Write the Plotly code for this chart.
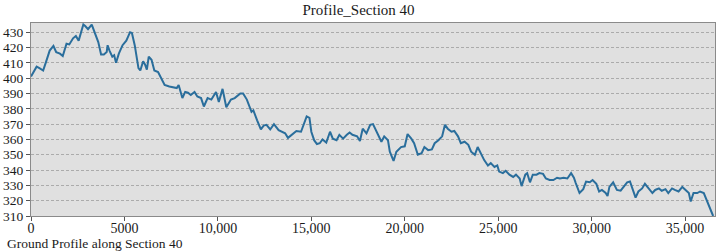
import plotly.graph_objects as go

distance = [0, 100, 300, 450, 650, 800, 1000, 1200, 1350, 1550, 1700, 1900, 2050, 2250, 2400, 2550,
            2700, 2800, 2900, 3050, 3250, 3400, 3600, 3750, 3900, 4050, 4100, 4200, 4350, 4450, 4550,
            4700, 4900, 5100, 5300, 5400, 5550, 5750, 5850, 6000, 6100, 6200, 6300, 6450, 6600, 6800,
            7000, 7150, 7400, 7550, 7800, 7900, 8100, 8250, 8400, 8550, 8750, 8900, 9100, 9250, 9450,
            9650, 9900, 10050, 10250, 10450, 10700, 10900, 11200, 11350, 11550, 11800, 11900, 12100,
            12300, 12450, 12600, 12800, 13000, 13250, 13400, 13600, 13750, 13950, 14200, 14450, 14600,
            14750, 14900, 15000, 15150, 15300, 15450, 15600, 15800, 16000, 16150, 16350, 16500, 16700,
            16900, 17050, 17200, 17450, 17600, 17750, 17950, 18150, 18300, 18500, 18600, 18750, 18900,
            19100, 19200, 19400, 19550, 19800, 20000, 20150, 20350, 20500, 20700, 20900, 21050, 21250,
            21450, 21600, 21800, 22000, 22150, 22300, 22500, 22650, 22850, 23000, 23200, 23400, 23550,
            23750, 23900, 24100, 24250, 24450, 24600, 24800, 24950, 25050, 25250, 25400, 25600, 25800,
            25950, 26150, 26250, 26450, 26550, 26700, 26850, 27050, 27200, 27400, 27550, 27750, 27950,
            28150, 28300, 28500, 28700, 28900, 29050, 29150, 29350, 29550, 29700, 29900, 30050, 30250,
            30400, 30550, 30750, 30850, 30950, 31150, 31350, 31550, 31700, 31900, 32050, 32150, 32350,
            32500, 32700, 32850, 33050, 33250, 33400, 33600, 33750, 33950, 34100, 34300, 34450, 34650,
            34850, 35000, 35200, 35300, 35450, 35650, 35800, 36000, 36150, 36300, 36450, 36500]

elevation = [401, 403.5, 407.5, 406.5, 405, 410.5, 418, 421, 417, 416, 414.5, 422.5, 422, 426, 427.5,
             424.5, 430, 435, 434, 432, 435, 430, 423.5, 415.5, 415.5, 417, 421.5, 418, 414, 415, 410,
             416, 421.5, 424.5, 430, 429.5, 421.5, 406.5, 405, 411, 409, 405.5, 414, 412, 405, 404,
             398.5, 395.5, 394.5, 394, 393.5, 395.5, 387, 391, 390.5, 389, 391, 388, 387, 381.5, 387,
             386, 391, 384.5, 393, 381, 386, 387, 390, 390, 386, 378, 379, 372.5,
             366.5, 369, 369.5, 366.5, 370, 366, 365, 364, 361, 363, 365.5, 365, 369.5,
             375, 374, 365, 359.5, 357, 357.5, 360, 358, 365, 360.5, 359.5, 363, 360.5,
             363, 364.5, 363, 362, 359, 367, 364, 369.5, 370, 365, 362, 358.5, 362,
             359.5, 352, 346, 352, 355, 355.5, 363.5, 360.5, 357.5, 350, 351, 355, 353,
             353.5, 357.5, 359.5, 362, 369.5, 367, 365, 365.5, 362, 357.5, 358.5, 356.5, 352,
             350, 355, 350, 346.5, 343, 344.5, 342, 343, 339, 338, 339.5, 337, 335.5,
             337, 334.5, 329.5, 337, 338, 332, 337, 337, 338, 337.5, 334.5, 333.5, 333.5,
             335, 334.5, 335, 334.5, 338, 335, 331.5, 325, 327.5, 332.5, 332, 333.5, 331,
             326, 327, 325, 323, 329, 332, 327, 326.5, 329, 332, 332.5, 329, 322,
             326, 328, 331, 328, 325, 327, 328, 326.5, 327.5, 325, 328, 327, 326,
             329, 327.5, 325, 319.5, 325, 325, 326, 325, 320.5, 316, 312, 310]

x_tickvals = [0, 5000, 10000, 15000, 20000, 25000, 30000, 35000]
x_ticktext = ["0", "5000", "10,000", "15,000", "20,000", "25,000", "30,000", "35,000"]
y_tickvals = [310, 320, 330, 340, 350, 360, 370, 380, 390, 400, 410, 420, 430]

font_family = "Liberation Serif, Times New Roman, serif"
text_color = "#1a1a1a"

fig = go.Figure()
fig.add_trace(go.Scatter(
    x=distance, y=elevation, mode="lines",
    line=dict(color="#2a6e9c", width=2),
    showlegend=False, hoverinfo="skip"
))

fig.update_layout(
    width=720, height=251,
    margin=dict(l=31, r=5, t=23, b=35, pad=0),
    paper_bgcolor="white",
    plot_bgcolor="#e0e0e0",
    font=dict(family=font_family, size=14, color=text_color),
    title=dict(text="Profile_Section 40", x=0.498, xanchor="center", y=0.981, yanchor="top",
               pad=dict(t=0, b=0),
               font=dict(family=font_family, size=15, color=text_color)),
    xaxis=dict(
        range=[0, 36600], tickvals=x_tickvals, ticktext=x_ticktext,
        showgrid=False, zeroline=False, automargin=False,
        showline=True, linecolor="#8a8a8a", linewidth=1, mirror=True,
        ticks="outside", ticklen=4, tickcolor="#555", ticklabelstandoff=-5,
        tickfont=dict(family=font_family, size=14, color=text_color),
    ),
    yaxis=dict(
        range=[310, 436], tickvals=y_tickvals,
        showgrid=True, gridcolor="#ababab", griddash="3px,2px", gridwidth=1,
        zeroline=False, automargin=False,
        showline=True, linecolor="#8a8a8a", linewidth=1, mirror=True,
        ticks="outside", ticklen=4, tickcolor="#555",
        tickfont=dict(family=font_family, size=13.5, color=text_color),
    ),
    annotations=[dict(
        text="Ground Profile along Section 40", xref="paper", yref="paper",
        x=-0.038, y=-0.14, xanchor="left", yanchor="middle", showarrow=False,
        font=dict(family=font_family, size=13.5, color=text_color)
    )]
)

# Remove the browser's default 8px body margin so the figure sits at the page origin.
fig.write_html("out.html", config={"displayModeBar": False},
               post_script="document.body.style.margin='0px';")
